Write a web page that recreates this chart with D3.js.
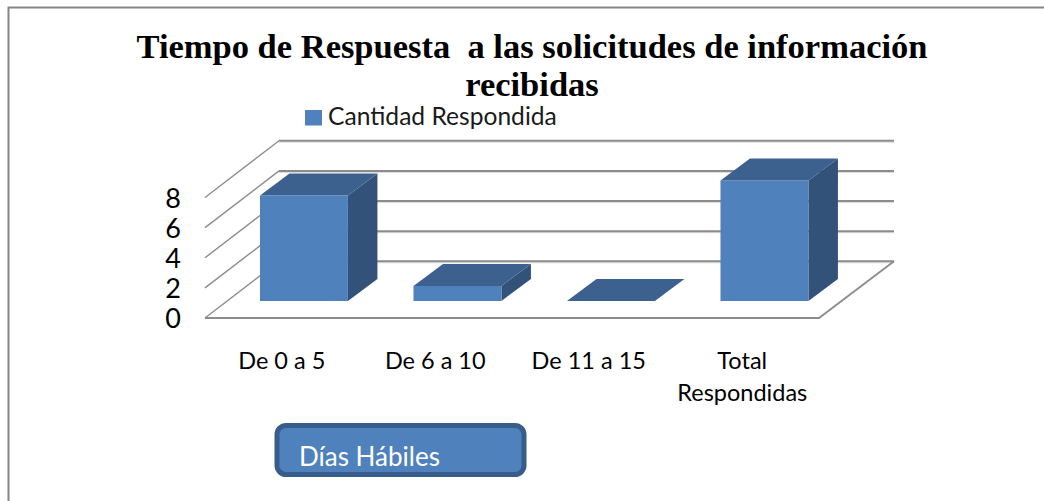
<!DOCTYPE html>
<html><head><meta charset="utf-8">
<script src="https://cdn.jsdelivr.net/npm/d3@7"></script>
<style>html,body{margin:0;padding:0;background:#fff}svg{display:block}</style>
</head><body><svg id="c" width="1044" height="501"></svg>
<script>
const categories=["De 0 a 5","De 6 a 10","De 11 a 15","Total Respondidas"];
const values=[7,1,0,8];
const yTicks=[0,2,4,6,8];
const titleLines=["Tiempo de Respuesta  a las solicitudes de información","recibidas"];
const seriesName="Cantidad Respondida";
const axisNote="Días Hábiles";

const svg=d3.select("#c");
const sans="Lato, 'Open Sans', sans-serif";
const x=d3.scaleBand().domain(categories).range([205,819]).paddingInner(0.427).paddingOuter(0.2135);
const y=d3.scaleLinear().domain([0,8]).range([318,197.5]);
const wall={dx:74,dy:-56.7}, bar={dx:29.5,dy:-22}, off={dx:22.2,dy:-17};
const grid="#8c8c8c";

// frame
svg.append("path").attr("d","M8.5,501V7.5H1044").attr("fill","none").attr("stroke","#868686").attr("stroke-width",2);

// title
svg.append("g").selectAll("text").data(titleLines).join("text")
  .attr("x",532).attr("y",(d,i)=>58+i*38).attr("text-anchor","middle")
  .attr("font-family","'Liberation Serif',serif").attr("font-weight","bold").attr("font-size",34.5)
  .attr("xml:space","preserve").style("white-space","pre").attr("fill","#000").text(d=>d);

// legend
svg.append("rect").attr("x",305).attr("y",110).attr("width",17).attr("height",15.5).attr("fill","#4f81bd");
svg.append("text").attr("x",328).attr("y",125).attr("font-family",sans).attr("font-size",24.6).attr("fill","#1a1a1a").text(seriesName);

// gridlines on walls
const g=svg.append("g").attr("fill","none");
yTicks.forEach(t=>{
  const y0=y(t);
  const back=y0+wall.dy;
  const ln=(x1,y1,x2,y2,c,w)=>g.append("line").attr("x1",x1).attr("y1",y1).attr("x2",x2).attr("y2",y2).attr("stroke",c).attr("stroke-width",w);
  ln(205+wall.dx,back+1.5,894,back+1.5,"#dcdcdc",1);
  ln(205+wall.dx,back,894,back,grid,2);
  ln(205,y0,205+wall.dx,back,grid,1.4);
});
g.append("path").attr("d",`M205,${y(0)}H819L894,${y(0)+wall.dy}`).attr("stroke",grid).attr("stroke-width",1.8);

// y tick labels
svg.append("g").selectAll("text").data(yTicks).join("text")
  .attr("x",181).attr("y",d=>y(d)+10).attr("text-anchor","end")
  .attr("font-family",sans).attr("font-size",27).attr("fill","#000").text(d=>d);

// bars
const bars=svg.append("g").selectAll("g").data(categories.map((c,i)=>({c,v:values[i]}))).join("g");
const bw=x.bandwidth();
bars.each(function(d){
  const s=d3.select(this);
  const l=x(d.c)+off.dx, r=l+bw, b=y(0)+off.dy, t=y(d.v)+off.dy;
  if(d.v>0){
    s.append("path").attr("d",`M${r},${b}L${r+bar.dx},${b+bar.dy}V${t+bar.dy}L${r},${t}Z`).attr("fill","#325279");
    s.append("rect").attr("x",l).attr("y",t).attr("width",bw).attr("height",b-t).attr("fill","#4f81bd");
  }
  s.append("path").attr("d",`M${l},${t}H${r}L${r+bar.dx},${t+bar.dy}H${l+bar.dx}Z`).attr("fill","#3c618f");
});

// category labels
svg.append("g").selectAll("text").data(categories).join("text")
  .attr("text-anchor","middle").attr("font-family",sans).attr("font-size",23.5).attr("fill","#000")
  .each(function(d){
    const s=d3.select(this), cx=x(d)+bw/2, words=d==="Total Respondidas"?["Total","Respondidas"]:[d];
    words.forEach((w,i)=>s.append("tspan").attr("x",cx).attr("y",369+i*32).text(w));
  });

// text box
svg.append("rect").attr("x",277).attr("y",425.5).attr("width",247).attr("height",49).attr("rx",9)
  .attr("fill","#4f81bd").attr("stroke","#385d8a").attr("stroke-width",5);
svg.append("text").attr("x",299).attr("y",466).attr("font-family",sans).attr("font-size",26).attr("fill","#fff").text(axisNote);
</script></body></html>
